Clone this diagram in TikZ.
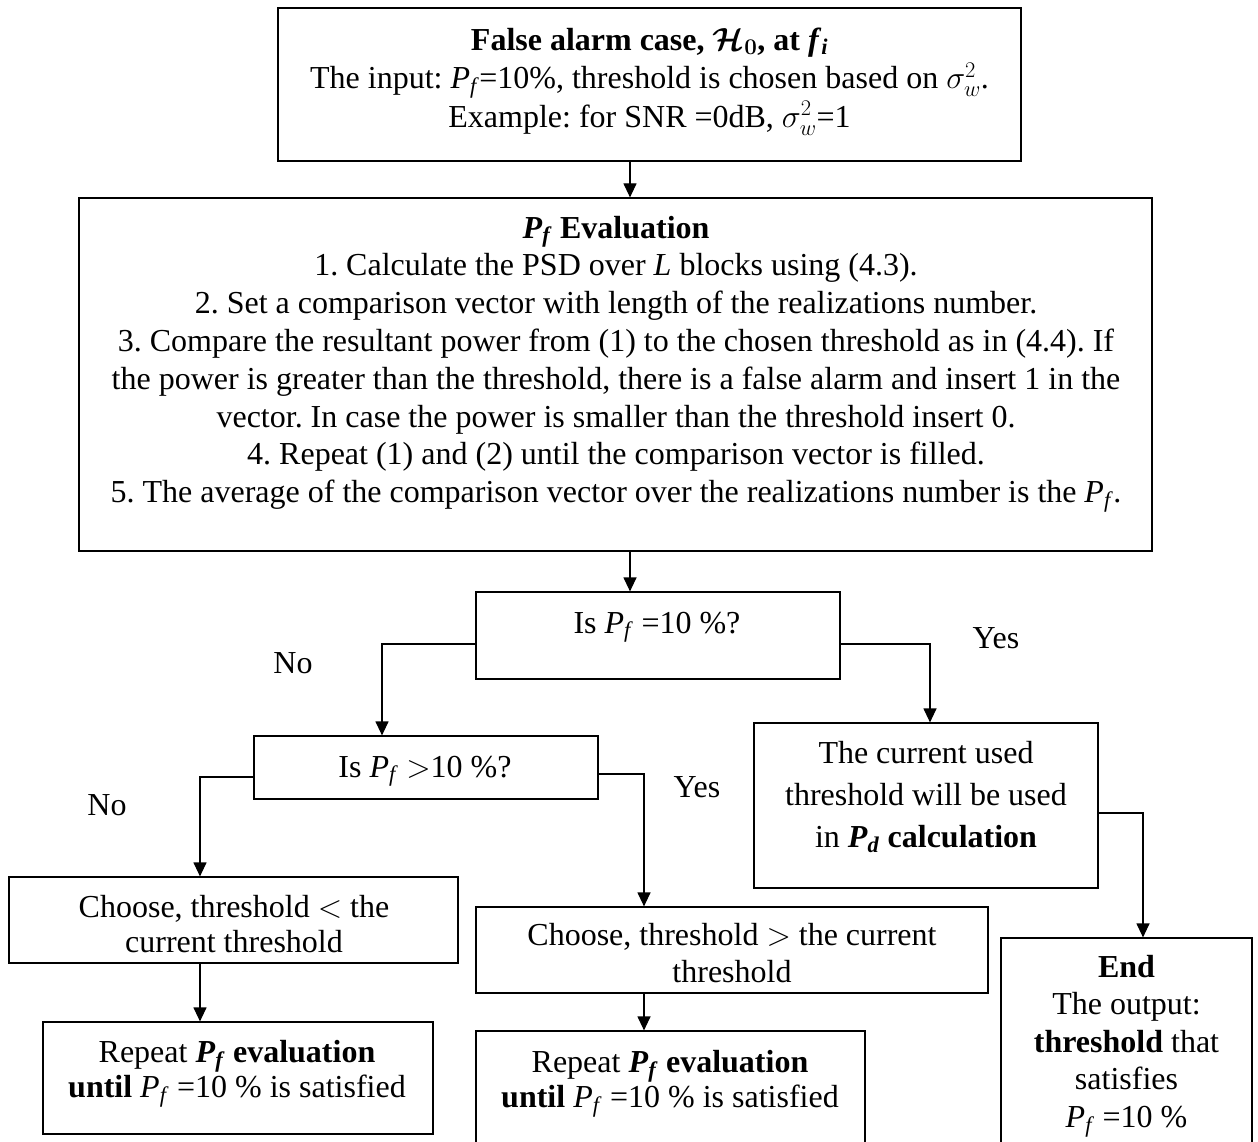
\RequirePackage{fix-cm}
\documentclass[tikz,border=0pt]{standalone}
\usepackage{fontspec}
\setmainfont{Liberation Serif}
\usepackage{bm}
\usetikzlibrary{arrows.meta}

% P_f in text italics
\newcommand\Pf{\textit{P}\textsubscript{\textit{f}}}
\newcommand\Pd{\textit{P}\textsubscript{\textit{d}}}

\tikzset{
  box/.style={draw, line width=1.2pt, inner sep=0pt},
  txt/.style={align=center, inner sep=0pt, font=\fontsize{32}{#1}\selectfont},
  txt/.default=37.8,
  lbl/.style={inner sep=0pt, anchor=base, font=\fontsize{32}{38}\selectfont},
  arr/.style={line width=1.2pt, -{Triangle[length=14pt,width=13pt]}}
}

\begin{document}
\frenchspacing
\begin{tikzpicture}[x=1pt, y=-1pt]
\path[use as bounding box] (0,0) rectangle (1258,1142);

% boxes
\node[box, minimum width=743, minimum height=153] (b1) at (649.5,84.5) {};
\node[box, minimum width=1073, minimum height=353] (b2) at (615.5,374.5) {};
\node[box, minimum width=364, minimum height=87] (d1) at (658,635.5) {};
\node[box, minimum width=344, minimum height=63] (d2) at (426,767.5) {};
\node[box, minimum width=344, minimum height=165] (cur) at (926,805.5) {};
\node[box, minimum width=449, minimum height=86] (chL) at (233.5,920) {};
\node[box, minimum width=512, minimum height=86] (chG) at (732,950) {};
\node[box, minimum width=390, minimum height=112] (repL) at (238,1078) {};
\node[box, minimum width=389, minimum height=140] (repR) at (670.5,1101) {};
\node[box, minimum width=251, minimum height=233] (fin) at (1126.5,1054.5) {};

% box texts
\node[txt=38.5, anchor=north] (t1) at (649.5,23) {\strut\textbf{False alarm case, $\bm{\mathcal{H}_0}$, at \textit{f}\textsubscript{\textit{i}}}\\
The input: \Pf=10\%, threshold is chosen based on $\sigma_w^2$.\\
Example: for SNR =0dB, $\sigma_w^2$=1};

\node[txt=37.8, anchor=north] (t2) at (616,211.5) {\strut\textbf{\Pf\ Evaluation}\\
1. Calculate the PSD over \textit{L} blocks using (4.3).\\
2. Set a comparison vector with length of the realizations number.\\
3. Compare the resultant power from (1) to the chosen threshold as in (4.4). If\\
the power is greater than the threshold, there is a false alarm and insert 1 in the\\
vector. In case the power is smaller than the threshold insert 0.\\
4. Repeat (1) and (2) until the comparison vector is filled.\\
5. The average of the comparison vector over the realizations number is the \Pf.};

\node[lbl] (td1) at (657,633) {Is \Pf\ =10 \%?};
\node[lbl] (td2) at (425,777) {Is \Pf\ $>$10 \%?};

\node[txt=42, anchor=north] (tcur) at (926,733.6) {\strut The current used\\
threshold will be used\\
in \textbf{\Pd\ calculation}};

\begin{scope}
  \clip (9,877) rectangle (458,953);
  \node[txt=35, anchor=north] (tchL) at (234,892.5) {\strut Choose, threshold $<$ the\\current threshold};
\end{scope}
\begin{scope}
  \clip (476,907) rectangle (988,983);
  \node[txt=37, anchor=north] (tchG) at (732,919.1) {\strut Choose, threshold $>$ the current\\threshold};
\end{scope}

\node[txt=35, anchor=north] (trepL) at (237,1037.5) {\strut Repeat \textbf{\Pf\ evaluation}\\
\textbf{until} \Pf\ =10 \% is satisfied};
\node[txt=35, anchor=north] (trepR) at (670,1047.5) {\strut Repeat \textbf{\Pf\ evaluation}\\
\textbf{until} \Pf\ =10 \% is satisfied};

\node[txt=37.5, anchor=north] (tfin) at (1126.5,950.75) {\strut\textbf{End}\\
The output:\\
\textbf{threshold} that\\
satisfies\\
\Pf\ =10 \%};

% branch labels
\node[lbl] (no1) at (293,673) {No};
\node[lbl] (no2) at (107,815) {No};
\node[lbl] (yes1) at (996,648) {Yes};
\node[lbl] (yes2) at (697,797) {Yes};

% connectors
\draw[arr] ([xshift=-19.5]b1.south) -- ([xshift=14.5]b2.north);
\draw[arr] ([xshift=14.5]b2.south) -- ([xshift=-28]d1.north);
\draw[arr] ([yshift=-8.5]d1.west) -| ([xshift=-44]d2.north);
\draw[arr] ([yshift=-8.5]d1.east) -| ([xshift=4]cur.north);
\draw[arr] ([yshift=-9.5]d2.west) -| ([xshift=-33.5]chL.north);
\draw[arr] ([yshift=-6.5]d2.east) -| ([xshift=-88]chG.north);
\draw[arr] ([xshift=-33.5]chL.south) -- ([xshift=-38]repL.north);
\draw[arr] ([xshift=-88]chG.south) -- ([xshift=-26.5]repR.north);
\draw[arr] ([yshift=-7.5]cur.east) -| ([xshift=16.5]fin.north);
\end{tikzpicture}
\end{document}
